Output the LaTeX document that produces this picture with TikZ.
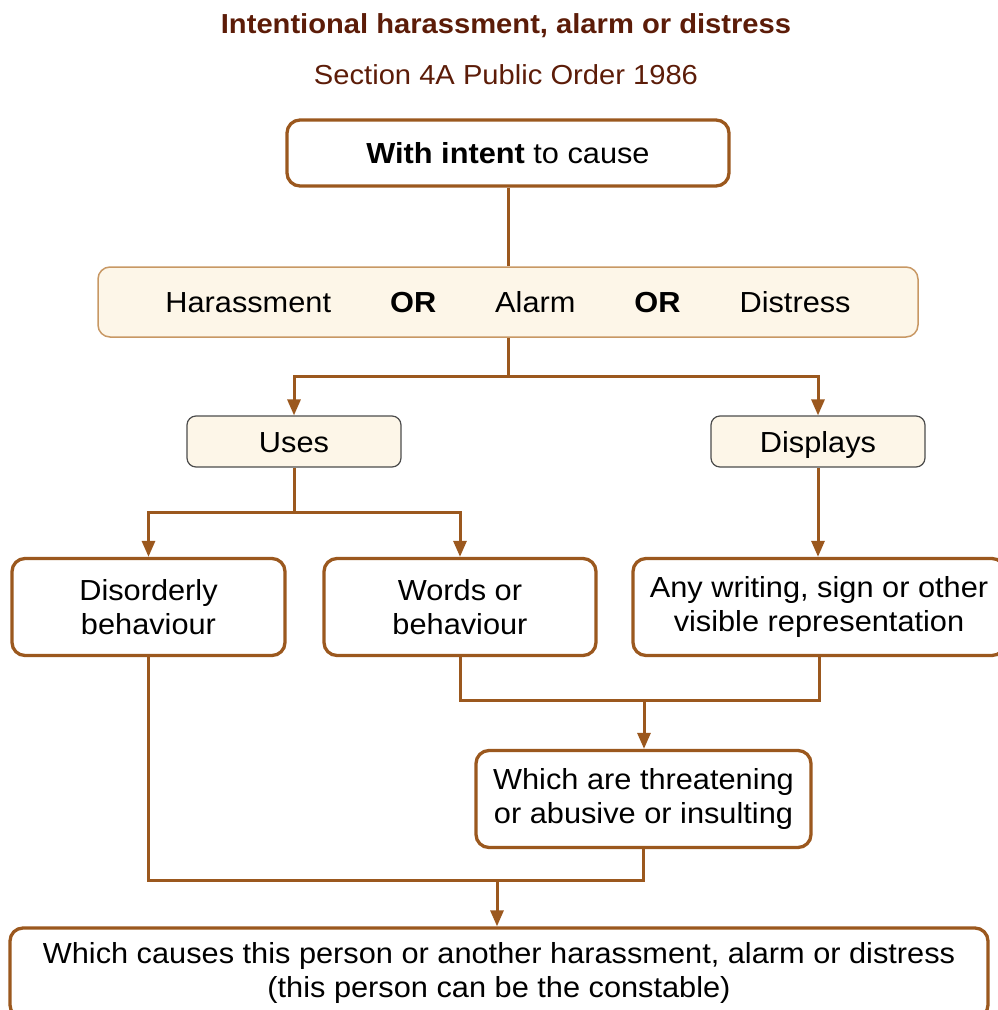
\documentclass[tikz,border=0pt]{standalone}
\usepackage{fontspec}
\setmainfont{Liberation Sans}[FakeStretch=1.06]
\usetikzlibrary{arrows.meta}

\definecolor{linebrown}{RGB}{155,88,30}
\definecolor{titlebrown}{RGB}{92,28,8}
\definecolor{creamfill}{RGB}{253,246,232}
\definecolor{tanedge}{RGB}{200,152,100}
\newcommand{\bodyfont}{\fontsize{29}{34}\selectfont}
\newcommand{\headfont}{\fontsize{27.5}{32}\selectfont}

\tikzset{
  x=1pt,y=-1pt,
  mainbox/.style={draw=linebrown,line width=3.3pt,fill=white,rounded corners=13pt,
    align=center,inner sep=0pt,font=\bodyfont},
  choicebox/.style={draw=tanedge,line width=1.5pt,fill=creamfill,rounded corners=12pt,
    align=center,inner sep=0pt,font=\bodyfont},
  actbox/.style={draw=black!70,line width=1.2pt,fill=creamfill,rounded corners=9pt,
    align=center,inner sep=0pt,font=\bodyfont,text height=21pt,text depth=0pt},
  flow/.style={draw=linebrown,line width=3pt},
  flowarr/.style={flow,-{Triangle[length=16pt,width=13pt]}}
}

\begin{document}
\begin{tikzpicture}
\useasboundingbox (0,0) rectangle (997,1010);
% heading
\node[text=titlebrown,font=\headfont\bfseries] (title) at (506,26) {Intentional harassment, alarm or distress};
\node[text=titlebrown,font=\headfont] (subtitle) at (506,75) {Section 4A Public Order 1986};
% boxes
\node[mainbox,minimum width=442,minimum height=66] (intent) at (508,153) {\textbf{With intent} to cause};
\node[choicebox,minimum width=820,minimum height=70] (choice) at (508,302)
  {Harassment\hspace{59pt}\textbf{OR}\hspace{59pt}Alarm\hspace{59pt}\textbf{OR}\hspace{59pt}Distress};
\node[actbox,minimum width=214,minimum height=51] (uses) at (294,441.5) {Uses};
\node[actbox,minimum width=214,minimum height=51] (displays) at (818,441.5) {Displays};
\node[mainbox,minimum width=273,minimum height=97] (disorderly) at (148.5,607) {Disorderly\\behaviour};
\node[mainbox,minimum width=272,minimum height=97] (words) at (460,607) {Words or\\behaviour};
\node[mainbox,minimum width=372,minimum height=97] (writing) at (819,607) {Any writing, sign or other\\visible representation};
\node[mainbox,minimum width=335,minimum height=97] (threat) at (643.5,799) {Which are threatening\\or abusive or insulting};
\node[mainbox,minimum width=978,minimum height=90] (result) at (499,973)
  {Which causes this person or another harassment, alarm or distress\\(this person can be the constable)};
% junctions
\coordinate (split1) at (508,376);
\coordinate (split2) at (294,512);
\coordinate (join1) at (644,700);
\coordinate (join2) at (497,880);
% connectors
\draw[flow] (intent) -- (choice);
\draw[flow] (choice) -- (split1);
\draw[flowarr] (split1) -| (uses);
\draw[flowarr] (split1) -| (displays);
\draw[flow] (uses) -- (split2);
\draw[flowarr] (split2) -| (disorderly);
\draw[flowarr] (split2) -| (words);
\draw[flowarr] (displays.south) -- (displays.south |- writing.north);
\draw[flow] (words.south) |- (join1) -| (writing.south);
\draw[flowarr] (join1) -- (join1 |- threat.north);
\draw[flow] (disorderly.south) |- (join2) -| (threat.south);
\draw[flowarr] (join2) -- (join2 |- result.north);
\end{tikzpicture}
\end{document}
